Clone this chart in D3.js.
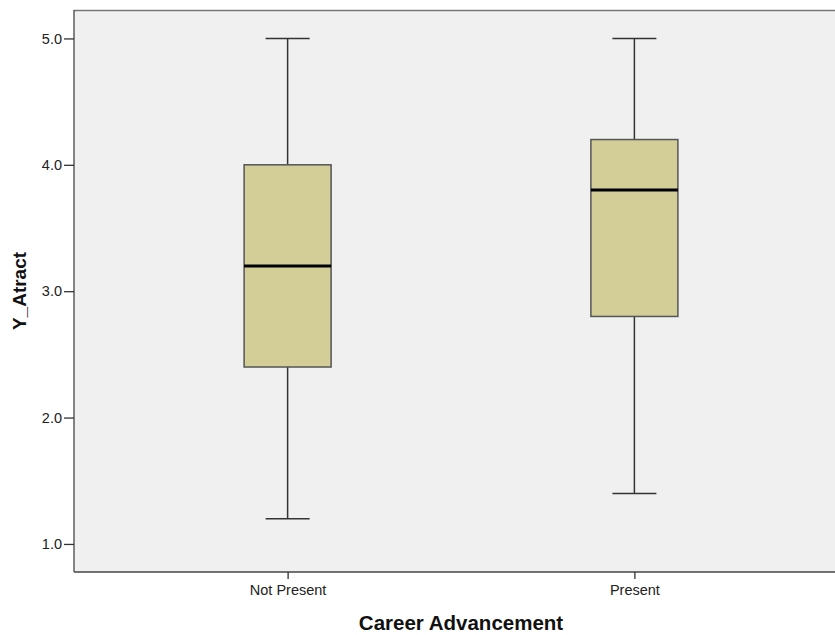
<!DOCTYPE html>
<html>
<head>
<meta charset="utf-8">
<script src="https://cdn.jsdelivr.net/npm/d3@7/dist/d3.min.js"></script>
<style>
  html, body { margin: 0; padding: 0; background: #ffffff; }
  svg { display: block; }
</style>
</head>
<body>
<svg id="chart" width="835" height="635"></svg>
<script>
// ---- Data ----
const categories = ["Not Present", "Present"];
const whiskerMin = [1.2, 1.4];
const q1 = [2.4, 2.8];
const median = [3.2, 3.8];
const q3 = [4.0, 4.2];
const whiskerMax = [5.0, 5.0];
const yTicks = [1.0, 2.0, 3.0, 4.0, 5.0];
const xTitle = "Career Advancement";
const yTitle = "Y_Atract";

const rows = categories.map((c, i) => ({
  cat: c, min: whiskerMin[i], q1: q1[i], med: median[i], q3: q3[i], max: whiskerMax[i]
}));

// ---- Layout ----
const svg = d3.select("#chart");
const pLeft = 74, pRight = 848, pTop = 10, pBottom = 572;

const y = d3.scaleLinear().domain([0.778, 5.225]).range([pBottom, pTop]);
const x = d3.scalePoint().domain(categories).range([pLeft, pRight]).padding(0.616);

const boxW = 87, capW = 44;

// plot background
svg.append("rect")
  .attr("x", pLeft).attr("y", pTop)
  .attr("width", pRight - pLeft).attr("height", pBottom - pTop)
  .attr("fill", "#f0f0f0");

// frame
svg.append("line").attr("x1", pLeft).attr("x2", pRight).attr("y1", pTop + 0.5).attr("y2", pTop + 0.5)
  .attr("stroke", "#777").attr("stroke-width", 1.5);
svg.append("line").attr("x1", pLeft).attr("x2", pRight).attr("y1", pBottom).attr("y2", pBottom)
  .attr("stroke", "#444").attr("stroke-width", 1.3);
svg.append("line").attr("x1", pLeft).attr("x2", pLeft).attr("y1", pTop).attr("y2", pBottom)
  .attr("stroke", "#444").attr("stroke-width", 1.3);

// y axis
const yAxis = d3.axisLeft(y).tickValues(yTicks).tickFormat(d3.format(".1f")).tickSize(10).tickPadding(2);
const yg = svg.append("g").attr("transform", `translate(${pLeft},0)`).call(yAxis);
yg.select(".domain").remove();
yg.selectAll(".tick line").attr("stroke", "#333").attr("stroke-width", 1.3);
yg.selectAll(".tick text").attr("fill", "#222")
  .style("font-family", "Liberation Sans, Arial, sans-serif").style("font-size", "14.5px");

// x axis
const xAxis = d3.axisBottom(x).tickSize(7).tickPadding(6);
const xg = svg.append("g").attr("transform", `translate(0,${pBottom})`).call(xAxis);
xg.select(".domain").remove();
xg.selectAll(".tick line").attr("stroke", "#333").attr("stroke-width", 1.3);
xg.selectAll(".tick text").attr("fill", "#222")
  .style("font-family", "Liberation Sans, Arial, sans-serif").style("font-size", "14.5px");

// boxes
const g = svg.append("g");
rows.forEach(d => {
  const cx = x(d.cat);
  // whiskers
  g.append("line").attr("x1", cx).attr("x2", cx).attr("y1", y(d.q3)).attr("y2", y(d.max))
    .attr("stroke", "#333").attr("stroke-width", 1.5);
  g.append("line").attr("x1", cx).attr("x2", cx).attr("y1", y(d.q1)).attr("y2", y(d.min))
    .attr("stroke", "#333").attr("stroke-width", 1.5);
  g.append("line").attr("x1", cx - capW / 2).attr("x2", cx + capW / 2).attr("y1", y(d.max)).attr("y2", y(d.max))
    .attr("stroke", "#333").attr("stroke-width", 1.5);
  g.append("line").attr("x1", cx - capW / 2).attr("x2", cx + capW / 2).attr("y1", y(d.min)).attr("y2", y(d.min))
    .attr("stroke", "#333").attr("stroke-width", 1.5);
  // box
  g.append("rect").attr("x", cx - boxW / 2).attr("y", y(d.q3))
    .attr("width", boxW).attr("height", y(d.q1) - y(d.q3))
    .attr("fill", "#d3ce98").attr("stroke", "#555").attr("stroke-width", 1.5);
  // median
  g.append("line").attr("x1", cx - boxW / 2).attr("x2", cx + boxW / 2).attr("y1", y(d.med)).attr("y2", y(d.med))
    .attr("stroke", "#000").attr("stroke-width", 3);
});

// titles
svg.append("text").attr("x", 461).attr("y", 630)
  .attr("text-anchor", "middle").attr("fill", "#111")
  .style("font-family", "Liberation Sans, Arial, sans-serif").style("font-size", "20.5px").style("font-weight", "bold")
  .text(xTitle);
svg.append("text").attr("transform", `translate(26,${(pTop + pBottom) / 2}) rotate(-90)`)
  .attr("text-anchor", "middle").attr("fill", "#111")
  .style("font-family", "Liberation Sans, Arial, sans-serif").style("font-size", "19px").style("font-weight", "bold")
  .text(yTitle);
</script>
</body>
</html>
